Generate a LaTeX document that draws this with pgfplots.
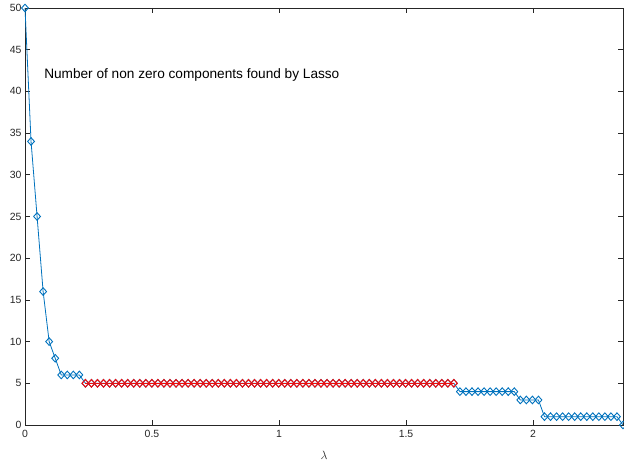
\documentclass[border=0pt]{standalone}
\usepackage{pgfplots}
\pgfplotsset{compat=1.18}
\usepackage{fontspec}
\setmainfont{Liberation Sans}
\definecolor{mblue}{rgb}{0,0.447,0.741}
\definecolor{mred}{rgb}{0.95,0.05,0.05}
\definecolor{axgray}{rgb}{0.15,0.15,0.15}
\begin{document}
\begin{tikzpicture}
\begin{axis}[
  scale only axis, width=598bp, height=417bp,
  xmin=0, xmax=2.3542, ymin=0, ymax=50,
  xtick={0,0.5,1,1.5,2}, ytick={0,5,...,50},
  xticklabels={0,0.5,1,1.5,2},
  tick align=inside, major tick length=5bp,
  axis line style={axgray, line width=0.6bp},
  every tick/.style={axgray, line width=0.6bp},
  tick label style={font=\fontsize{10.5}{12}\selectfont, text=axgray},
  /pgf/number format/assume math mode=true,
  xticklabel style={yshift=-2bp},
  xlabel={$\lambda$},
  xlabel style={at={(axis description cs:0.5,0)}, anchor=center, yshift=-30bp, font=\fontsize{13}{15}\selectfont, text=axgray},
  clip=false,
]
\addplot[mblue, line width=0.8bp, mark=diamond, mark size=3.8bp, mark options={solid, line width=0.9bp, xscale=1.2}] coordinates {
(0,50) (0.02378,34) (0.04756,25) (0.07134,16) (0.09512,10) (0.1189,8)
(0.14268,6) (0.16646,6) (0.19024,6) (0.21402,6)
(0.2378,5) (0.26158,5) (0.28536,5) (0.30914,5) (0.33292,5) (0.3567,5) (0.38048,5) (0.40426,5) (0.42804,5) (0.45182,5)
(0.4756,5) (0.49938,5) (0.52316,5) (0.54694,5) (0.57072,5) (0.5945,5) (0.61828,5) (0.64206,5) (0.66584,5) (0.68962,5)
(0.7134,5) (0.73718,5) (0.76096,5) (0.78474,5) (0.80852,5) (0.8323,5) (0.85608,5) (0.87986,5) (0.90364,5) (0.92742,5)
(0.9512,5) (0.97498,5) (0.99876,5) (1.02254,5) (1.04632,5) (1.0701,5) (1.09388,5) (1.11766,5) (1.14144,5) (1.16522,5)
(1.189,5) (1.21278,5) (1.23656,5) (1.26034,5) (1.28412,5) (1.3079,5) (1.33168,5) (1.35546,5) (1.37924,5) (1.40302,5)
(1.4268,5) (1.45058,5) (1.47436,5) (1.49814,5) (1.52192,5) (1.5457,5) (1.56948,5) (1.59326,5) (1.61704,5) (1.64082,5)
(1.6646,5) (1.68838,5)
(1.71216,4) (1.73594,4) (1.75972,4) (1.7835,4) (1.80728,4) (1.83106,4) (1.85484,4) (1.87862,4) (1.9024,4) (1.92618,4)
(1.94996,3) (1.97374,3) (1.99752,3) (2.0213,3)
(2.04508,1) (2.06886,1) (2.09264,1) (2.11642,1) (2.1402,1) (2.16398,1) (2.18776,1) (2.21154,1) (2.23532,1) (2.2591,1)
(2.28288,1) (2.30666,1) (2.33044,1)
(2.35422,0)
};
\addplot[mred, line width=0.9bp, mark=diamond, mark size=3.8bp, mark options={solid, line width=1bp, xscale=1.2}] coordinates {
(0.2378,5) (0.26158,5) (0.28536,5) (0.30914,5) (0.33292,5) (0.3567,5) (0.38048,5) (0.40426,5) (0.42804,5) (0.45182,5)
(0.4756,5) (0.49938,5) (0.52316,5) (0.54694,5) (0.57072,5) (0.5945,5) (0.61828,5) (0.64206,5) (0.66584,5) (0.68962,5)
(0.7134,5) (0.73718,5) (0.76096,5) (0.78474,5) (0.80852,5) (0.8323,5) (0.85608,5) (0.87986,5) (0.90364,5) (0.92742,5)
(0.9512,5) (0.97498,5) (0.99876,5) (1.02254,5) (1.04632,5) (1.0701,5) (1.09388,5) (1.11766,5) (1.14144,5) (1.16522,5)
(1.189,5) (1.21278,5) (1.23656,5) (1.26034,5) (1.28412,5) (1.3079,5) (1.33168,5) (1.35546,5) (1.37924,5) (1.40302,5)
(1.4268,5) (1.45058,5) (1.47436,5) (1.49814,5) (1.52192,5) (1.5457,5) (1.56948,5) (1.59326,5) (1.61704,5) (1.64082,5)
(1.6646,5) (1.68838,5)
};
\node[anchor=west, inner sep=0pt, font=\fontsize{13.7}{16}\selectfont, text=black] at (axis cs:0.075,42) {Number of non zero components found by Lasso};
\end{axis}
\pgfresetboundingbox
\path[use as bounding box] ([shift={(-25bp,-38bp)}]current axis.south west) rectangle ([shift={(1bp,8bp)}]current axis.north east);
\end{tikzpicture}
\end{document}
